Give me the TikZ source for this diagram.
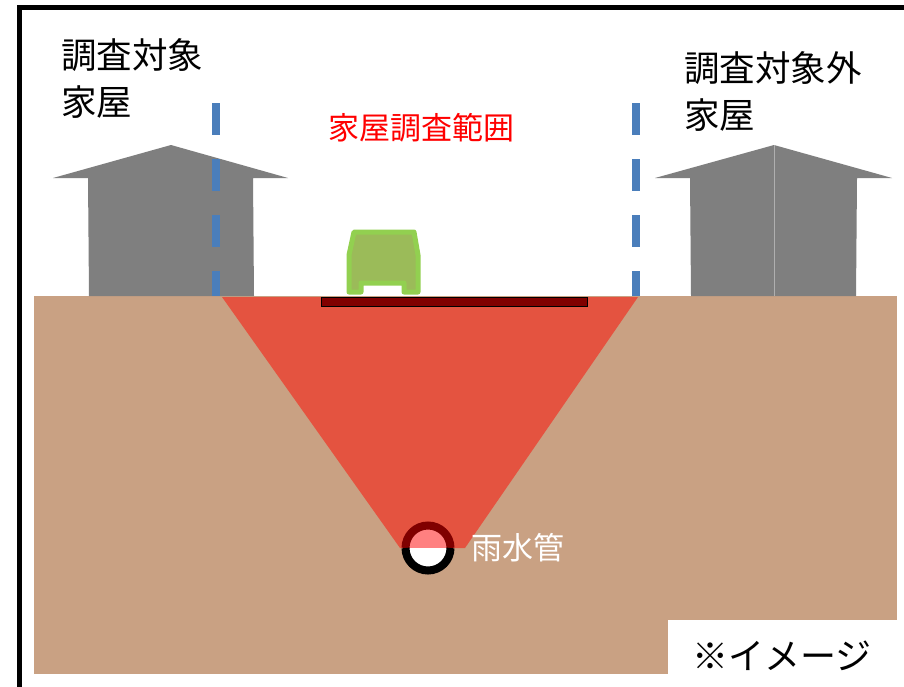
\documentclass[tikz,border=0pt]{standalone}
\usepackage{fontspec}
\setmainfont{Noto Sans CJK JP}
\definecolor{soil}{RGB}{201,161,131}
\definecolor{zone}{RGB}{228,83,64}
\definecolor{darkred}{RGB}{128,0,0}
\definecolor{pipepink}{RGB}{255,128,128}
\definecolor{housegray}{RGB}{127,127,127}
\definecolor{seam}{RGB}{175,175,175}
\definecolor{boundblue}{RGB}{74,126,187}
\definecolor{carfill}{RGB}{155,187,89}
\definecolor{carline}{RGB}{146,208,80}
\tikzset{
  housebody/.style={fill=housegray},
  boundary/.style={draw=boundblue, line width=8pt, dash pattern=on 32pt off 24pt},
  bigtext/.style={inner sep=0pt, align=left, font=\fontsize{35.5}{47}\selectfont},
  midtext/.style={inner sep=0pt, font=\fontsize{31}{37}\selectfont},
}
\begin{document}
\begin{tikzpicture}[x=1pt,y=-1pt]
  \useasboundingbox (0,0) rectangle (904,686);
  \clip (0,0) rectangle (904,686);
  \fill[white] (0,0) rectangle (904,686);

  % outer frame (runs past the right and bottom edges)
  \draw[line width=5pt] (19.5,7.5) rectangle (930,720);

  % ground
  \fill[soil] (34,296) rectangle (897,674);

  % houses
  \fill[housebody] (171,145) -- (288,178) -- (253,178) -- (254,296)
                -- (89,296) -- (88,178) -- (53,178) -- cycle;
  \fill[housebody] (774,145) -- (892,178) -- (857,178) -- (856,296)
                -- (691,296) -- (690,178) -- (655,178) -- cycle;
  \draw[seam, line width=0.8pt] (774,145) -- (774,296);

  % survey zone above the pipe
  \fill[zone] (222,297) -- (638,297) -- (465,548) -- (400,548) -- cycle;

  % survey boundaries
  \coordinate (lbtop) at (216,103);
  \coordinate (lbbot) at (216,296);
  \coordinate (rbtop) at (636,103);
  \coordinate (rbbot) at (636,296);
  \draw[boundary] (lbtop) -- (lbbot);
  \draw[boundary] (rbtop) -- (rbbot);

  % road surface and vehicle
  \fill[darkred, draw=black, line width=1pt] (321,297) rectangle (587,306);
  \draw[carline, fill=carfill, line width=5pt, line join=round]
    (354,232) -- (414,232) -- (418,255) -- (418,292) -- (404,292) -- (404,283)
    -- (361,283) -- (361,292) -- (349,292) -- (349,255) -- cycle;

  % rainwater pipe (arc radii in pt, so angles run counter-clockwise on the page)
  \coordinate (pipe) at (428,548);
  \fill[pipepink] ([xshift=22.5pt]pipe) arc[start angle=0, end angle=180, radius=22.5pt] -- cycle;
  \fill[white] ([xshift=-22.5pt]pipe) arc[start angle=180, end angle=360, radius=22.5pt] -- cycle;
  \draw[darkred, line width=8pt] ([xshift=22.5pt]pipe) arc[start angle=0, end angle=180, radius=22.5pt];
  \draw[black, line width=8pt] ([xshift=-22.5pt]pipe) arc[start angle=180, end angle=360, radius=22.5pt];

  % labels
  \node[bigtext] (target) at (132,78) {調査対象\\家屋};
  \node[bigtext] (other) at (773,91) {調査対象外\\家屋};
  \node[midtext, text=red] (range) at (421,128) {家屋調査範囲};
  \node[midtext, text=white] (pipelabel) at (518,548) {雨水管};

  \fill[white] (668,620) rectangle (904,686);
  \node[inner sep=0pt, font=\fontsize{36}{40}\selectfont] (note) at (782,656) {※イメージ};
\end{tikzpicture}
\end{document}
